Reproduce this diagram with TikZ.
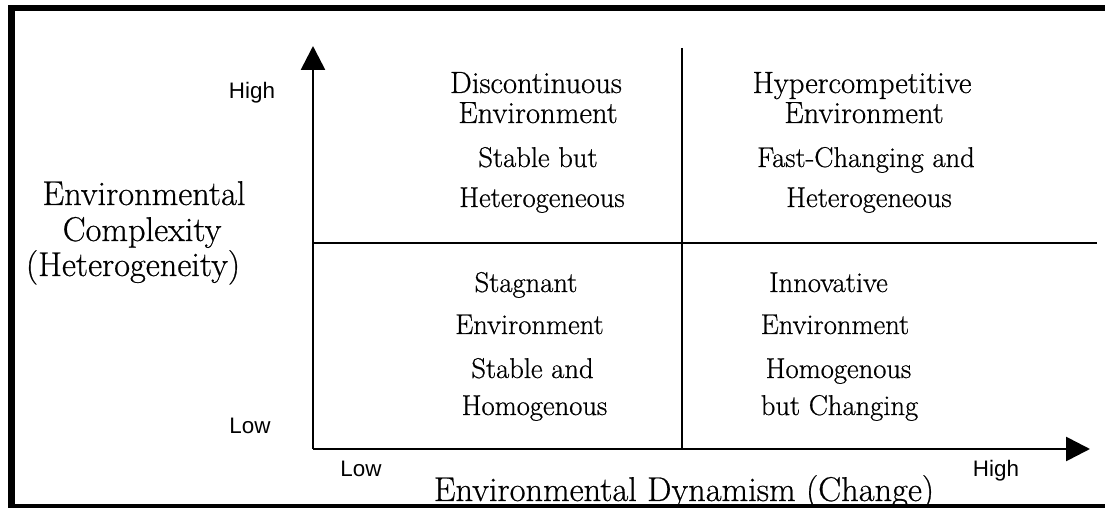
\documentclass[tikz,border=0pt]{standalone}
\usepackage{fontspec}
\setsansfont{Liberation Sans}
\newfontfamily\labelserif{Latin Modern Roman}[FakeBold=0.6]
\usetikzlibrary{arrows.meta}

\tikzset{
  frame/.style={line width=3.3pt},
  axis/.style={line width=1.35pt, -{Triangle[length=12pt, width=12pt]}},
  divider/.style={line width=1.25pt},
  title/.style={anchor=base, inner sep=0pt, font=\labelserif\fontsize{15.35}{17}\selectfont},
  sub/.style={anchor=base, inner sep=0pt, font=\labelserif\fontsize{14.3}{16}\selectfont},
  axtitle/.style={anchor=base, inner sep=0pt, font=\labelserif\fontsize{17.2}{19}\selectfont},
  level/.style={anchor=base, inner sep=0pt, font=\sffamily\fontsize{11.2}{13}\selectfont},
}

\begin{document}
\begin{tikzpicture}[x=0.5pt, y=-0.5pt]
  \useasboundingbox (0,0) rectangle (1105,508);
  \clip (0,0) rectangle (1105,508);

  % outer frame, running past the right and lower edges
  \draw[frame] (11.5,8) rectangle (1115,507.5);

  % axes and quadrant dividers
  \coordinate (O) at (313,449);
  \coordinate (ytip) at (313,46);
  \coordinate (xtip) at (1090,449);
  \coordinate (vtop) at (682,48);
  \coordinate (vbot) at (682,449);
  \coordinate (hleft) at (313,243);
  \coordinate (hright) at (1097,243);

  \draw[divider] (vtop) -- (vbot);
  \draw[divider] (hleft) -- (hright);
  \draw[axis] (O) -- (ytip);
  \draw[axis] (O) -- (xtip);

  % axis levels
  \node[level] (yhigh) at (252,99) {High};
  \node[level] (ylow) at (250,433) {Low};
  \node[level] (xlow) at (361,476) {Low};
  \node[level] (xhigh) at (996,476) {High};

  % axis titles
  \node[axtitle] (ya) at (144,205) {Environmental};
  \node[axtitle] (yb) at (142,241) {Complexity};
  \node[axtitle] (yc) at (133,276) {(Heterogeneity)};
  \node[axtitle] (xa) at (684,501) {Environmental Dynamism (Change)};

  % upper left quadrant
  \node[title] (tl1) at (536,93) {Discontinuous};
  \node[title] (tl2) at (538,123) {Environment};
  \node[sub] (tl3) at (538,167) {Stable but};
  \node[sub] (tl4) at (542,207) {Heterogeneous};

  % upper right quadrant
  \node[title] (tr1) at (862,93) {Hypercompetitive};
  \node[title] (tr2) at (864,123) {Environment};
  \node[sub] (tr3) at (866,167) {Fast-Changing and};
  \node[sub] (tr4) at (869,207) {Heterogeneous};

  % lower left quadrant
  \node[sub] (bl1) at (526,292) {Stagnant};
  \node[sub] (bl2) at (529.5,334) {Environment};
  \node[sub] (bl3) at (532.5,378) {Stable and};
  \node[sub] (bl4) at (534.5,415) {Homogenous};

  % lower right quadrant
  \node[sub] (br1) at (828.5,292) {Innovative};
  \node[sub] (br2) at (835,334) {Environment};
  \node[sub] (br3) at (838.5,378) {Homogenous};
  \node[sub] (br4) at (839.5,415) {but Changing};
\end{tikzpicture}
\end{document}
